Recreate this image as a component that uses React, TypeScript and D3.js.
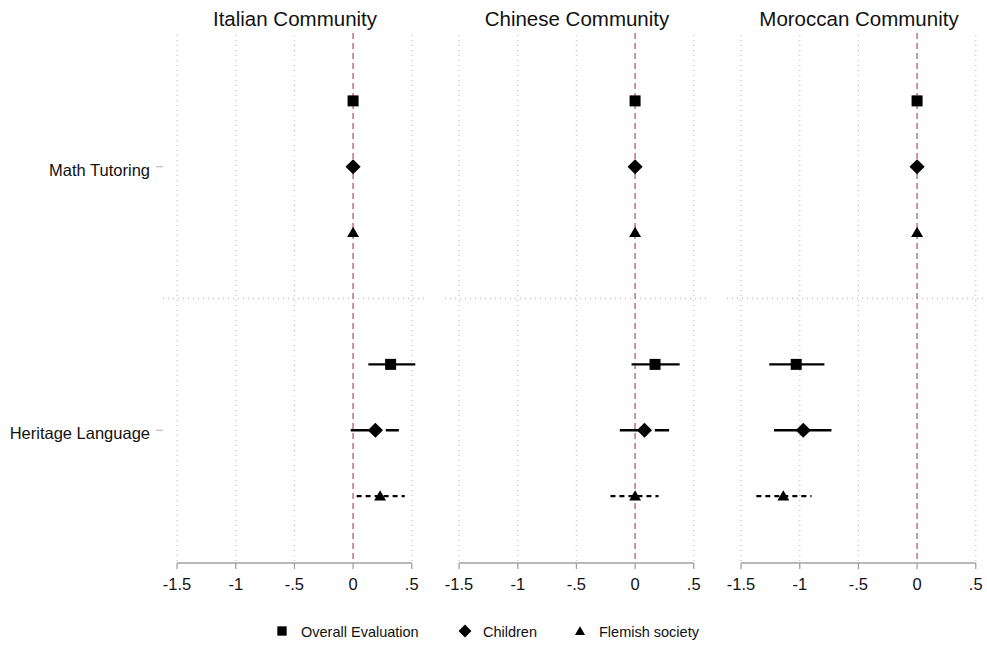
import React from "react";
import * as d3 from "d3";

// Panels, outcome groups and measures
const communities = ["Italian Community", "Chinese Community", "Moroccan Community"];
const outcomes = ["Math Tutoring", "Heritage Language"];
const measures = ["Overall Evaluation", "Children", "Flemish society"];
const xTicks = [-1.5, -1, -0.5, 0, 0.5];

// Math Tutoring is the reference category (estimate 0, no interval)
const mathEst = [0, 0, 0];

// Heritage Language estimates and 95% intervals, per community (Overall, Children, Flemish)
const italianEst = [0.32, 0.19, 0.23];
const italianLo = [0.13, -0.02, 0.03];
const italianHi = [0.53, 0.39, 0.44];

const chineseEst = [0.17, 0.08, 0.0];
const chineseLo = [-0.03, -0.13, -0.21];
const chineseHi = [0.38, 0.29, 0.2];

const moroccanEst = [-1.03, -0.97, -1.14];
const moroccanLo = [-1.26, -1.22, -1.37];
const moroccanHi = [-0.79, -0.73, -0.9];

const heritage = [
  { est: italianEst, lo: italianLo, hi: italianHi },
  { est: chineseEst, lo: chineseLo, hi: chineseHi },
  { est: moroccanEst, lo: moroccanLo, hi: moroccanHi },
];

const W = 987;
const H = 645;
const FONT = "'Liberation Sans', Arial, Helvetica, sans-serif";

const panelLefts = [163, 445, 727];
const panelWidth = 264;
const xDomain: [number, number] = [-1.62, 0.63];

// Rows: three measures per outcome, with an empty slot between groups
const y = d3.scaleLinear().domain([-1, 7]).range([35, 562]);
const rowIndex = (g: number, m: number) => g * 4 + m;

const dashStyles = ["none", "30 5", "5 4"];

// Tick labels without a leading zero: -1.5, -1, -.5, 0, .5
const fmt = (v: number) => {
  const sign = v < 0 ? "-" : "";
  const s = String(Math.abs(v)).replace(/^0\./, ".");
  return sign + s;
};

function Marker({ kind, cx, cy, s = 1 }: { kind: number; cx: number; cy: number; s?: number }) {
  let path: string;
  if (kind === 0) {
    path = d3.symbol(d3.symbolSquare, 121 * s * s)()!;
    return <path d={path} transform={`translate(${cx},${cy})`} fill="#000" />;
  } else if (kind === 1) {
    path = d3.symbol(d3.symbolSquare, 115 * s * s)()!;
    return <path d={path} transform={`translate(${cx},${cy}) rotate(45)`} fill="#000" />;
  }
  path = d3.symbol(d3.symbolTriangle, 62 * s * s)()!;
  return <path d={path} transform={`translate(${cx},${cy + 1})`} fill="#000" />;
}

function Panel({ p }: { p: number }) {
  const left = panelLefts[p];
  const x = d3.scaleLinear().domain(xDomain).range([left, left + panelWidth]);
  const top = y(-1);
  const axisY = 563;
  const d = heritage[p];
  return (
    <g>
      <text
        x={left + panelWidth / 2}
        y={26}
        textAnchor="middle"
        fontSize={20.5}
        fontFamily={FONT}
        fill="#111"
      >
        {communities[p]}
      </text>
      {/* vertical dotted grid */}
      {xTicks.filter((t) => t !== 0).map((t) => (
        <line
          key={t}
          x1={x(t)}
          x2={x(t)}
          y1={top}
          y2={axisY}
          stroke="#c8c0c3"
          strokeWidth={1.3}
          strokeDasharray="1 4"
        />
      ))}
      {/* group separator */}
      <line
        x1={left}
        x2={left + panelWidth}
        y1={y(3)}
        y2={y(3)}
        stroke="#c8c0c3"
        strokeWidth={1.3}
        strokeDasharray="1 4"
      />
      {/* zero reference */}
      <line
        x1={x(0)}
        x2={x(0)}
        y1={top - 2}
        y2={axisY}
        stroke="#c06274"
        strokeWidth={1.4}
        strokeDasharray="6 4"
      />
      {/* x axis */}
      <line x1={x(-1.5)} x2={x(0.5)} y1={axisY} y2={axisY} stroke="#a0a0a0" strokeWidth={1.3} />
      {xTicks.map((t) => (
        <g key={t}>
          <line x1={x(t)} x2={x(t)} y1={axisY} y2={axisY + 6} stroke="#a0a0a0" strokeWidth={1.3} />
          <text x={x(t)} y={axisY + 27} textAnchor="middle" fontSize={16.5} fontFamily={FONT} fill="#111">
            {fmt(t)}
          </text>
        </g>
      ))}
      {/* Heritage Language intervals */}
      {measures.map((_, m) => {
        const cy = y(rowIndex(1, m));
        return (
          <line
            key={"ci" + m}
            x1={x(d.lo[m])}
            x2={x(d.hi[m])}
            y1={cy}
            y2={cy}
            stroke="#000"
            strokeWidth={2.4}
            strokeDasharray={dashStyles[m]}
          />
        );
      })}
      {/* point estimates */}
      {measures.map((_, m) => (
        <Marker key={"m0" + m} kind={m} cx={x(mathEst[m])} cy={y(rowIndex(0, m))} />
      ))}
      {measures.map((_, m) => (
        <Marker key={"m1" + m} kind={m} cx={x(d.est[m])} cy={y(rowIndex(1, m))} />
      ))}
    </g>
  );
}

export default function App() {
  const legendX = [282, 465, 580];
  const legendTextX = [301, 483, 599];
  return (
    <svg
      width={W}
      height={H}
      viewBox={`0 0 ${W} ${H}`}
      style={{ position: "absolute", left: 0, top: 0, background: "#fff" }}
    >
      <rect width={W} height={H} fill="#fff" />
      {/* outcome labels */}
      {outcomes.map((o, g) => {
        const cy = y(rowIndex(g, 1));
        return (
          <g key={o}>
            <text
              x={150}
              y={cy + 3}
              textAnchor="end"
              dominantBaseline="central"
              fontSize={16.5}
              fontFamily={FONT}
              fill="#111"
            >
              {o}
            </text>
            <line x1={156} x2={163} y1={cy} y2={cy} stroke="#b0b0b0" strokeWidth={1} />
          </g>
        );
      })}
      {communities.map((_, p) => (
        <Panel key={p} p={p} />
      ))}
      {/* legend */}
      {measures.map((m, i) => (
        <g key={m}>
          <Marker kind={i} cx={legendX[i]} cy={631} s={0.85} />
          <text x={legendTextX[i]} y={637} fontSize={14.5} fontFamily={FONT} fill="#111">
            {m}
          </text>
        </g>
      ))}
    </svg>
  );
}
